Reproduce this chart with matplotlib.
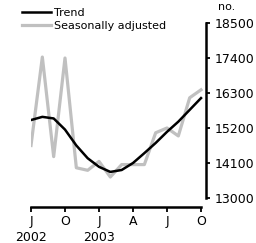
import matplotlib
matplotlib.use("Agg")
import matplotlib.pyplot as plt

# monthly, Jul 2002 .. Oct 2003
months = list(range(16))
seas_adj = [14650, 17430, 14300, 17400, 13950, 13870, 14150, 13660, 14050, 14050,
            14050, 15050, 15200, 14950, 16150, 16400]
trend = [15450, 15550, 15500, 15150, 14650, 14250, 13980, 13820, 13880, 14100,
         14410, 14730, 15080, 15400, 15770, 16140]

xtick_pos = [0, 3, 6, 9, 12, 15]
xtick_labels = ["J\n2002", "O", "J\n2003", "A", "J", "O"]
ytick_vals = [13000, 14100, 15200, 16300, 17400, 18500]

plt.rcParams['font.family'] = ['DejaVu Sans']

fig = plt.figure(figsize=(2.56, 2.43), dpi=100)
ax = fig.add_axes([31 / 256, 1 - 207 / 243, (206 - 31) / 256, (207 - 23) / 243])

ax.plot(months, seas_adj, color="#c0c0c0", lw=2.3, label="Seasonally adjusted", zorder=2)
ax.plot(months, trend, color="black", lw=1.8, label="Trend", zorder=3)

ax.set_xlim(0, 15.44)
ax.set_ylim(12717, 18500)

for s in ["top", "left"]:
    ax.spines[s].set_visible(False)
ax.spines["right"].set_bounds(13000, 18500)
ax.spines["bottom"].set_bounds(0, 15)
ax.spines["right"].set_linewidth(1.8)
ax.spines["bottom"].set_linewidth(1.8)

ax.yaxis.tick_right()
ax.set_yticks(ytick_vals)
ax.set_yticklabels([str(v) for v in ytick_vals])
ax.tick_params(axis="y", direction="out", length=3, width=1.3, pad=3.5, labelsize=9)

ax.set_xticks(xtick_pos)
ax.set_xticklabels(xtick_labels, linespacing=1.35)
ax.tick_params(axis="x", direction="out", length=3.5, width=1.3, pad=2, labelsize=9)

fig.text(227 / 256, 1 - 7 / 243, "no.", ha="center", va="center", fontsize=8)

handles, labels = ax.get_legend_handles_labels()
ax.legend(handles[::-1], labels[::-1], loc="upper left",
          bbox_to_anchor=(22 / 256, 1 - 8 / 243), bbox_transform=fig.transFigure,
          frameon=False, fontsize=8, handlelength=2.6, handletextpad=0.25,
          labelspacing=0.3, borderpad=0, borderaxespad=0)

fig.savefig("out.png", dpi=100)
